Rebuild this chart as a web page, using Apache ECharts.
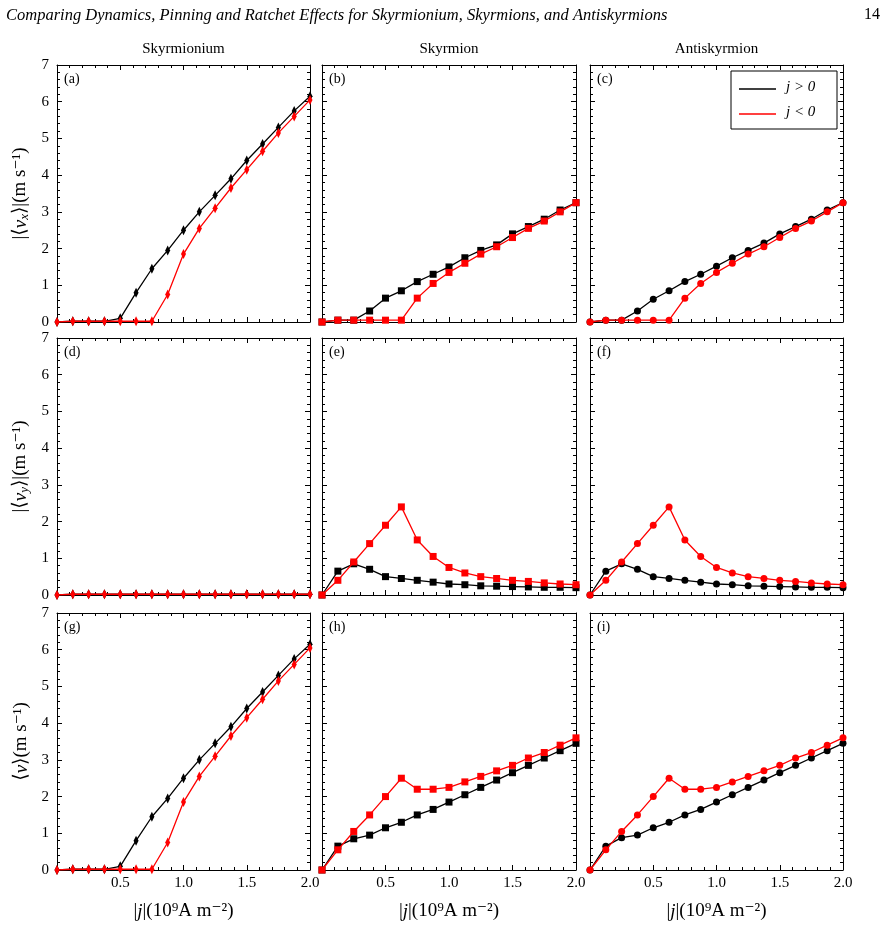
<!DOCTYPE html>
<html><head><meta charset="utf-8">
<script src="https://cdn.jsdelivr.net/npm/echarts@6/dist/echarts.min.js"></script>
<style>body{margin:0;background:#fff}#c{width:892px;height:928px}</style></head>
<body><div id="c"></div>
<script>
const j = [0,0.125,0.25,0.375,0.5,0.625,0.75,0.875,1.0,1.125,1.25,1.375,1.5,1.625,1.75,1.875,2.0];
const columnTitles = ['Skyrmionium','Skyrmion','Antiskyrmion'];
const rowLabels = ['|⟨{i|v}{s|x}⟩|(m s⁻¹)','|⟨{i|v}{s|y}⟩|(m s⁻¹)','⟨{i|v}⟩(m s⁻¹)'];
const panelLetters = ['(a)','(b)','(c)','(d)','(e)','(f)','(g)','(h)','(i)'];
// Skyrmionium
const smVxPos = [0,0.02,0.02,0.02,0.1,0.8,1.45,1.95,2.5,3.0,3.45,3.9,4.4,4.85,5.3,5.75,6.15];
const smVxNeg = [0,0.02,0.02,0.02,0.02,0.02,0.02,0.75,1.85,2.55,3.1,3.65,4.15,4.65,5.15,5.6,6.05];
const smVyPos = [0,0.02,0.02,0.02,0.02,0.02,0.02,0.02,0.02,0.02,0.02,0.02,0.02,0.02,0.02,0.02,0.02];
const smVyNeg = [0,0.02,0.02,0.02,0.02,0.02,0.02,0.02,0.02,0.02,0.02,0.02,0.02,0.02,0.02,0.02,0.02];
const smVPos = [0,0.02,0.02,0.02,0.1,0.8,1.45,1.95,2.5,3.0,3.45,3.9,4.4,4.85,5.3,5.75,6.15];
const smVNeg = [0,0.02,0.02,0.02,0.02,0.02,0.02,0.75,1.85,2.55,3.1,3.65,4.15,4.65,5.15,5.6,6.05];
// Skyrmion
const skVxPos = [0,0.05,0.05,0.3,0.65,0.85,1.1,1.3,1.5,1.75,1.95,2.1,2.4,2.6,2.8,3.05,3.25];
const skVxNeg = [0,0.05,0.05,0.05,0.05,0.05,0.65,1.05,1.35,1.6,1.85,2.05,2.3,2.55,2.75,3.0,3.25];
const skVyPos = [0,0.65,0.85,0.7,0.5,0.45,0.4,0.35,0.3,0.28,0.25,0.24,0.23,0.22,0.21,0.21,0.2];
const skVyNeg = [0,0.4,0.9,1.4,1.9,2.4,1.5,1.05,0.75,0.6,0.5,0.45,0.4,0.37,0.33,0.3,0.28];
const skVPos = [0,0.65,0.85,0.95,1.15,1.3,1.5,1.65,1.85,2.05,2.25,2.45,2.65,2.85,3.05,3.25,3.45];
const skVNeg = [0,0.55,1.05,1.5,2.0,2.5,2.2,2.2,2.25,2.4,2.55,2.7,2.85,3.05,3.2,3.4,3.6];
// Antiskyrmion
const asVxPos = [0,0.05,0.05,0.3,0.62,0.85,1.1,1.3,1.52,1.75,1.95,2.15,2.4,2.6,2.8,3.05,3.25];
const asVxNeg = [0,0.05,0.05,0.05,0.05,0.05,0.65,1.05,1.35,1.6,1.85,2.05,2.3,2.55,2.75,3.0,3.25];
const asVyPos = [0,0.65,0.85,0.7,0.5,0.45,0.4,0.35,0.3,0.28,0.25,0.24,0.23,0.22,0.21,0.21,0.2];
const asVyNeg = [0,0.4,0.9,1.4,1.9,2.4,1.5,1.05,0.75,0.6,0.5,0.45,0.4,0.37,0.33,0.3,0.28];
const asVPos = [0,0.65,0.88,0.95,1.15,1.3,1.5,1.65,1.85,2.05,2.25,2.45,2.65,2.85,3.05,3.25,3.45];
const asVNeg = [0,0.55,1.05,1.5,2.0,2.5,2.2,2.2,2.25,2.4,2.55,2.7,2.85,3.05,3.2,3.4,3.6];

const panels = [
 [smVxPos,smVxNeg],[skVxPos,skVxNeg],[asVxPos,asVxNeg],
 [smVyPos,smVyNeg],[skVyPos,skVyNeg],[asVyPos,asVyNeg],
 [smVPos,smVNeg],[skVPos,skVNeg],[asVPos,asVNeg]];
const symbols = ['diamond','rect','circle'];
const symSizes = [[5,10],7,7];
const F = '"Liberation Serif","DejaVu Serif",serif';
const lefts=[57,322,590], widths=[253,254,253], tops=[65,338,613], h=257;
const grids=[],xAxis=[],yAxis=[],series=[],graphic=[];
const tick={inside:true,length:5,lineStyle:{color:'#000'}};
const minor={show:true,length:3,lineStyle:{color:'#000'}};
const richY={i:{fontFamily:F,fontSize:19,fontStyle:'italic',color:'#000'},s:{fontFamily:F,fontSize:13,fontStyle:'italic',color:'#000',verticalAlign:'bottom',padding:[8,0,0,0]}};
for(let r=0;r<3;r++)for(let c=0;c<3;c++){
 const g=r*3+c;
 grids.push({left:lefts[c],top:tops[r],width:widths[c],height:h});
 const base={type:'value',gridIndex:g,min:0,max:2,interval:0.5,axisLine:{show:true,onZero:false,lineStyle:{color:'#000',width:1}},axisTick:tick,minorTick:{...minor,splitNumber:5},splitLine:{show:false}};
 xAxis.push({...base,position:'bottom',axisLabel:{show:r===2,color:'#000',fontFamily:F,fontSize:15,margin:6,formatter:v=>v===0?'':v.toFixed(1)},name:r===2?'|{i|j}|(10⁹A m⁻²)':'',nameLocation:'middle',nameGap:32,nameTextStyle:{fontFamily:F,fontSize:19,color:'#000',rich:{i:{fontFamily:F,fontSize:19,fontStyle:'italic',color:'#000'}}}});
 xAxis.push({...base,position:'top',axisLabel:{show:false},name:r===0?columnTitles[c]:'',nameLocation:'middle',nameGap:8,nameTextStyle:{fontFamily:F,fontSize:15,color:'#000'}});
 const yb={type:'value',gridIndex:g,min:0,max:7,interval:1,axisLine:{show:true,onZero:false,lineStyle:{color:'#000',width:1}},axisTick:tick,minorTick:{...minor,splitNumber:5},splitLine:{show:false}};
 yAxis.push({...yb,position:'left',axisLabel:{show:c===0,color:'#000',fontFamily:F,fontSize:15,margin:8},name:c===0?rowLabels[r]:'',nameLocation:'middle',nameGap:26,nameRotate:90,nameTextStyle:{fontFamily:F,fontSize:19,color:'#000',rich:richY}});
 yAxis.push({...yb,position:'right',axisLabel:{show:false}});
 const [pos,neg]=panels[g];
 [[pos,'#000'],[neg,'#f00']].forEach(([d,col])=>{
  series.push({type:'line',xAxisIndex:2*g,yAxisIndex:2*g,data:d.map((v,i)=>[j[i],v]),symbol:symbols[c],symbolSize:symSizes[c],showSymbol:true,showAllSymbol:true,lineStyle:{color:col,width:1.3},itemStyle:{color:col},z:col==='#f00'?3:2,animation:false});
 });
 graphic.push({type:'text',left:lefts[c]+7,top:tops[r]+7,style:{text:panelLetters[g],font:'14px '+F,fill:'#000'}});
}
graphic.push({type:'text',left:6,top:7,style:{text:'Comparing Dynamics, Pinning and Ratchet Effects for Skyrmionium, Skyrmions, and Antiskyrmions',font:'italic 16.5px '+F,fill:'#000'}});
graphic.push({type:'text',left:864,top:7,style:{text:'14',font:'16px '+F,fill:'#000'}});
// legend in (c)
graphic.push({type:'rect',shape:{x:731,y:71,width:106,height:58},style:{fill:'#fff',stroke:'#000',lineWidth:1},z:10});
graphic.push({type:'line',shape:{x1:739,y1:89,x2:776,y2:89},style:{stroke:'#000',lineWidth:1.5},z:11});
graphic.push({type:'line',shape:{x1:739,y1:114,x2:776,y2:114},style:{stroke:'#f00',lineWidth:1.5},z:11});
graphic.push({type:'text',left:786,top:80,style:{text:'j > 0',font:'italic 15px '+F,fill:'#000'},z:11});
graphic.push({type:'text',left:786,top:105,style:{text:'j < 0',font:'italic 15px '+F,fill:'#000'},z:11});
const chart=echarts.init(document.getElementById('c'));
chart.setOption({animation:false,grid:grids,xAxis,yAxis,series,graphic});
</script></body></html>
